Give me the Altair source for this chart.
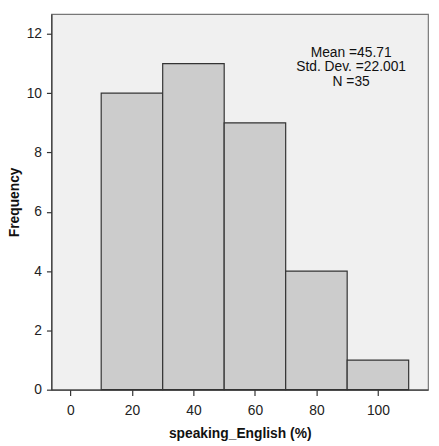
import altair as alt
import pandas as pd

bin_start = [10, 30, 50, 70, 90]
bin_end = [30, 50, 70, 90, 110]
counts = [10, 11, 9, 4, 1]
x_ticks = [0, 20, 40, 60, 80, 100]
y_ticks = [0, 2, 4, 6, 8, 10, 12]
stats_lines = ["Mean =45.71", "Std. Dev. =22.001", "N =35"]

df = pd.DataFrame({"start": bin_start, "end": bin_end, "count": counts})
FONT = "Liberation Sans"

xscale = alt.Scale(domain=[-6.2, 116.3], nice=False, zero=False)
yscale = alt.Scale(domain=[0, 12.67], nice=False)

bars = alt.Chart(df).mark_rect(
    fill="#cccccc", stroke="#333333", strokeWidth=1.2
).encode(
    x=alt.X("start:Q", scale=xscale,
            axis=alt.Axis(values=x_ticks, title="speaking_English (%)", grid=False,
                          tickSize=6, labelPadding=8, titlePadding=9)),
    x2="end:Q",
    y=alt.Y("count:Q", scale=yscale,
            axis=alt.Axis(values=y_ticks, title="Frequency", grid=False,
                          tickSize=5, labelPadding=5, titlePadding=5)),
    y2=alt.datum(0),
)

stats_df = pd.DataFrame({"line": stats_lines, "i": [0, 1, 2]})
text = alt.Chart(stats_df).mark_text(
    font=FONT, fontSize=14, color="#111111", align="center", baseline="alphabetic"
).encode(
    x=alt.value(304),
    y=alt.Y("i:Q", axis=None, scale=alt.Scale(domain=[0, 2], range=[43.7, 72.7])),
    text="line:N",
)

chart = alt.layer(bars, text).resolve_scale(y="independent").properties(
    width=382, height=381,
    autosize=alt.AutoSizeParams(type="none"),
    padding={"left": 44, "top": 3, "right": 3, "bottom": 54},
    background="white",
).configure_view(
    fill="#f0f0f0", stroke="#777777", strokeWidth=1.2
).configure_axis(
    labelFont=FONT, titleFont=FONT, labelFontSize=14, titleFontSize=14,
    titleFontWeight="bold", labelColor="#222222", titleColor="#111111",
    domainColor="#333333", tickColor="#333333", domainWidth=1.2, tickWidth=1.2,
)

chart.save("out.html", embed_options={"renderer": "svg", "actions": False})
